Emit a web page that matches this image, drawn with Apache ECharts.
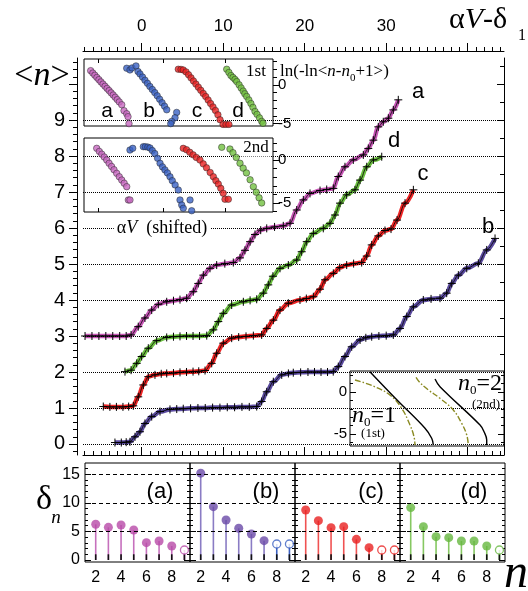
<!DOCTYPE html>
<html><head><meta charset="utf-8">
<script src="https://cdn.jsdelivr.net/npm/echarts@6/dist/echarts.min.js"></script>
<style>html,body{margin:0;padding:0;background:#fff}#c{width:528px;height:591px}</style>
</head><body><div id="c"></div>
<script>
// ---------- main plot: <n> vs alphaV - delta1 ----------
const curveA = [[-6.95,3.0],[-6.1,3.0],[-5.25,3.0],[-4.4,3.0],[-3.55,3.0],[-2.7,3.0],[-1.9,3.0],[-1.3,3.03],[-0.42,3.26],[0.4,3.5],[1.23,3.72],[2.04,3.88],[3.07,3.95],[3.9,3.98],[4.7,4.01],[5.52,4.05],[6.33,4.23],[6.94,4.46],[7.56,4.69],[8.38,4.88],[9.2,4.97],[10.2,5.01],[11.24,5.04],[12.06,5.17],[12.67,5.38],[13.3,5.62],[13.9,5.82],[14.6,5.94],[15.34,5.99],[16.3,6.03],[17.37,6.06],[18.2,6.13],[19.02,6.5],[19.83,6.78],[20.65,6.96],[21.88,7.04],[22.7,7.07],[23.51,7.1],[24.12,7.43],[24.94,7.7],[25.96,7.89],[27.19,8.03],[27.8,8.21],[28.42,8.44],[29.03,8.81],[29.64,8.95],[30.26,9.05],[30.87,9.28],[31.48,9.56]];
const curveD = [[-2.05,2.01],[-1.3,2.05],[-0.61,2.24],[0,2.43],[0.81,2.66],[1.84,2.87],[3.07,2.96],[3.9,2.98],[4.7,2.99],[5.5,3.0],[6.3,3.0],[7.1,3.0],[7.98,3.01],[8.79,3.17],[9.4,3.4],[10.01,3.63],[11.04,3.86],[12.47,3.95],[13.3,3.99],[14.11,4.02],[14.92,4.19],[15.53,4.42],[16.1,4.66],[16.97,4.88],[17.99,4.97],[19.02,5.11],[19.63,5.34],[20.25,5.62],[21.06,5.85],[22.28,5.99],[23.1,6.13],[23.72,6.36],[24.33,6.69],[25.15,6.92],[26.17,7.06],[26.79,7.33],[27.61,7.7],[28.42,7.89],[29.45,7.98]];
const curveC = [[-4.71,1.04],[-3.9,1.03],[-3.1,1.03],[-2.3,1.03],[-1.6,1.04],[-1.03,1.06],[-0.42,1.31],[0.2,1.64],[0.81,1.87],[1.63,1.92],[2.4,1.95],[3.07,1.96],[3.9,1.97],[4.7,1.99],[5.5,2.0],[6.3,2.01],[7.0,2.02],[7.77,2.04],[8.59,2.24],[9.2,2.52],[10.01,2.8],[11.04,2.94],[11.9,2.97],[12.8,2.99],[13.7,3.01],[14.72,3.03],[15.34,3.21],[16.15,3.44],[16.97,3.72],[17.99,3.91],[19.42,4.0],[20.2,4.04],[21.06,4.09],[21.88,4.3],[22.49,4.56],[23.51,4.74],[24.3,4.9],[25.15,4.97],[26.0,5.01],[26.99,5.04],[27.61,5.22],[28.22,5.53],[29.03,5.78],[29.85,5.93],[30.59,5.97],[31.33,6.22],[32.31,6.69],[33.33,7.06]];
const curveB = [[-3.28,0.04],[-2.5,0.04],[-1.9,0.05],[-1.44,0.06],[-0.82,0.2],[-0.21,0.34],[0.4,0.57],[1.23,0.76],[2.25,0.9],[3.47,0.96],[4.3,0.97],[5.1,0.98],[6.0,0.99],[6.9,1.0],[7.8,1.0],[8.7,1.01],[9.6,1.01],[10.5,1.02],[11.4,1.02],[12.3,1.03],[13.2,1.03],[14.11,1.04],[14.72,1.18],[15.34,1.45],[16.15,1.73],[17.18,1.92],[18.0,1.96],[18.6,1.98],[19.5,1.99],[20.4,2.0],[21.2,2.0],[22.0,2.0],[22.8,2.0],[23.5,2.01],[24.12,2.15],[24.94,2.43],[25.77,2.7],[26.79,2.89],[27.5,2.95],[28.22,2.98],[29.1,3.0],[30.0,3.01],[30.87,3.03],[31.69,3.21],[32.52,3.54],[33.33,3.81],[34.55,4.0],[35.5,4.03],[36.6,4.05],[37.42,4.19],[38.04,4.46],[38.85,4.69],[39.88,4.88],[41.3,5.02],[42.33,5.39],[43.35,5.71]];
const topLabels = [0,10,20,30];
const topMajor = [0,10,20,30,40];
const nLabels = [0,1,2,3,4,5,6,7,8,9];
const nGridLines = [0,1,2,3,4,5,6,7,8,9];

// ---------- inset 1: ln(-ln<n-n0+1>) vs alphaV (shifted) ----------
const in1TopA = [[-6.26,1.83],[-6.0,1.52],[-5.75,1.24],[-5.5,0.95],[-5.25,0.67],[-5.0,0.38],[-4.75,0.1],[-4.5,-0.18],[-4.25,-0.46],[-4.0,-0.74],[-3.75,-1.03],[-3.5,-1.31],[-3.25,-1.6],[-3.0,-1.9],[-2.75,-2.2],[-2.45,-2.56],[-2.17,-3.33],[-1.84,-3.72],[-1.68,-4.1],[-1.56,-5.0]];
const in1TopB = [[-1.84,2.14],[-1.44,1.92],[-1.19,2.18],[-0.7,2.44],[-0.45,1.71],[-0.21,1.41],[0.1,1.0],[0.4,0.6],[0.7,0.2],[1.0,-0.2],[1.3,-0.6],[1.6,-1.0],[1.9,-1.4],[2.2,-1.85],[2.5,-2.3],[2.8,-2.75],[3.07,-3.21],[4.29,-3.55],[4.09,-4.23],[3.68,-4.71],[3.56,-5.0]];
const in1TopC = [[4.49,2.01],[4.82,1.99],[5.1,1.92],[5.44,1.67],[5.75,1.3],[6.05,0.9],[6.35,0.5],[6.65,0.1],[6.95,-0.3],[7.25,-0.7],[7.55,-1.1],[7.85,-1.5],[8.15,-1.95],[8.45,-2.4],[8.75,-2.85],[9.05,-3.3],[9.35,-3.85],[9.61,-4.49],[9.98,-5.1],[10.34,-5.1],[10.7,-5.1]];
const in1TopD = [[10.43,2.01],[10.7,1.6],[10.95,1.2],[11.2,0.95],[11.45,0.7],[11.66,0.42],[11.95,0.0],[12.2,-0.4],[12.45,-0.8],[12.65,-1.15],[12.88,-1.5],[13.15,-1.95],[13.4,-2.4],[13.65,-2.9],[13.9,-3.42],[14.15,-3.8],[14.45,-4.25],[14.72,-4.7],[14.88,-4.95]];
const in1BotA = [[-5.52,1.36],[-5.2,1.0],[-4.9,0.68],[-4.6,0.35],[-4.29,0.0],[-4.0,-0.38],[-3.7,-0.75],[-3.4,-1.13],[-3.07,-1.55],[-2.75,-1.95],[-2.45,-2.33],[-2.15,-2.7],[-1.84,-3.1],[-1.64,-4.65],[-1.44,-4.65]];
const in1BotB = [[-1.44,1.16],[-1.1,1.36],[0.2,1.55],[0.45,1.55],[0.75,1.5],[1.02,1.4],[1.3,1.1],[1.6,0.75],[1.95,0.2],[2.25,-0.38],[2.55,-0.8],[2.85,-1.15],[3.15,-1.5],[3.47,-1.94],[3.75,-2.4],[4.1,-2.9],[4.49,-3.49],[4.7,-4.65],[4.91,-5.23],[5.1,-5.62],[6.13,-5.9],[5.93,-4.65]];
const in1BotC = [[5.1,1.36],[5.5,1.2],[5.9,0.9],[6.3,0.6],[6.7,0.3],[7.15,0.0],[7.55,-0.45],[7.95,-0.9],[8.4,-1.45],[8.79,-1.94],[9.1,-2.4],[9.4,-2.8],[9.7,-3.3],[10.01,-3.87],[10.22,-4.57],[10.63,-4.57]];
const in1BotD = [[9.82,1.48],[10.83,1.28],[11.2,0.85],[11.6,0.3],[12.06,-0.38],[12.45,-0.95],[12.85,-1.5],[13.3,-2.3],[13.7,-3.1],[14.05,-3.75],[14.4,-4.4],[14.72,-5.0]];
const in1TopBands = [[1.54,2.31],[-5.3,-4.49]];
const in1BotBands = [[0.93,1.74],[-5.23,-4.42]];
const in1YLabels = [0,-5];
const in1XTicks = [-5.3,2.6,10.2];

// ---------- inset 2: n0 = 1 (1st), n0 = 2 (2nd) ----------
const in2Olive1 = [[26.17,1.43],[28.4,0.71],[30.45,-0.36],[31.9,-1.94],[32.92,-3.93],[33.41,-5.32],[33.53,-6.31]];
const in2Black1 = [[28.0,2.42],[31.33,-0.95],[34.76,-4.32],[35.58,-5.51],[35.78,-6.31]];
const in2Olive2 = [[33.66,1.75],[34.15,1.11],[35.17,0.24],[36.6,-0.75],[38.23,-2.14],[39.26,-3.73],[39.88,-5.12],[40.07,-6.31]];
const in2Black2 = [[35.99,1.55],[36.6,0.63],[41.51,-3.93],[42.0,-4.73],[42.33,-5.71],[42.33,-6.31]];
const in2YLabels = [0,-5];

// ---------- bottom panels: delta_n vs n ----------
const nIdx = [2,3,4,5,6,7,8,9];
const deltaA = [6.25,5.72,6.13,5.25,3.04,3.33,2.45,1.75];
const deltaB = [15.2,9.34,7.0,5.55,4.55,3.38,2.8,2.8];
const deltaC = [8.76,6.89,5.66,5.84,3.62,2.16,1.75,1.75];
const deltaD = [9.17,5.84,4.09,3.91,3.33,3.33,2.45,1.75];
const openA = [0,0,0,0,0,0,0,1];
const openB = [0,0,0,0,0,0,1,1];
const openC = [0,0,0,0,0,0,1,1];
const openD = [0,0,0,0,0,0,0,1];
const stemBase = [1,1,1,1,1,1,1,1];
const deltaLabels = [0,5,10,15];
const deltaGrid = [5,10,15];
const nTickLabels = [2,4,6,8];

function steps(a,b,s){const r=[];for(let i=0;a+i*s<=b+1e-9;i++)r.push(+(a+i*s).toFixed(3));return r;}
const SANS='Liberation Sans', SERIF='Liberation Serif';
const BLK={color:'#000',width:1};

function ax(o){
  return Object.assign({
    type:'value', splitLine:{show:false},
    axisLine:{show:!!o.line,onZero:false,lineStyle:BLK},
    axisTick:{show:!!o.ticks,inside:!!o.inside,length:o.len||4,customValues:o.ticks,lineStyle:BLK},
    axisLabel:{show:!!o.labels,customValues:o.labels,fontSize:o.fs||15,color:'#000',fontFamily:SANS,margin:o.margin==null?6:o.margin}
  },o.base);
}

const grids = [
  {left:83, top:58, width:421, height:397, show:false},
  {left:84, top:59, width:189, height:67, show:true, backgroundColor:'#fff', borderColor:'#000', borderWidth:1, z:3},
  {left:84, top:138, width:189, height:74, show:true, backgroundColor:'#fff', borderColor:'#000', borderWidth:1, z:3},
  {left:350, top:371, width:154, height:75, show:true, backgroundColor:'#fff', borderColor:'#000', borderWidth:1, z:3}
];
for(let i=0;i<4;i++) grids.push({left:85+105*i, top:463, width:105, height:99, show:true, borderColor:'#000', borderWidth:1});

const XM={gridIndex:0,min:-7.2,max:44.45};
const YM={gridIndex:0,min:-0.306,max:10.722};
const xAxes = [
  ax({base:Object.assign({position:'top',offset:7},XM),line:1,ticks:steps(-7,44,1),len:4,labels:topLabels,fs:17,margin:16}),
  ax({base:Object.assign({position:'top',offset:7},XM),ticks:topMajor,len:8}),
  ax({base:Object.assign({position:'bottom'},XM),line:1,ticks:steps(-7,44,1),inside:1,len:4}),
  ax({base:Object.assign({position:'bottom'},XM),ticks:topMajor,inside:1,len:8}),
  ax({base:{gridIndex:1,position:'top',min:-7.08,max:16.11,z:4},ticks:in1XTicks,inside:1,len:4}),
  ax({base:{gridIndex:2,position:'bottom',min:-7.08,max:16.11,z:4},ticks:in1XTicks,inside:1,len:4}),
  ax({base:{gridIndex:3,position:'bottom',min:25.56,max:44.45,z:4,show:false}})
];
for(let i=0;i<4;i++) xAxes.push(ax({base:{gridIndex:4+i,position:'bottom',min:1.155,max:9.44},labels:nTickLabels,fs:16,margin:8}));

const yAxes = [
  ax({base:Object.assign({position:'left',offset:6},YM),line:1,ticks:steps(-0.2,10.6,0.2),len:4,labels:nLabels,fs:20,margin:12}),
  ax({base:Object.assign({position:'left',offset:6},YM),ticks:steps(0,10,1),len:8}),
  ax({base:Object.assign({position:'right'},YM),line:1,ticks:steps(0,10.5,0.5),inside:1,len:4}),
  ax({base:Object.assign({position:'right'},YM),ticks:steps(0,10,1),inside:1,len:7}),
  ax({base:{gridIndex:1,position:'right',min:-5.3,max:3.33,z:4},ticks:steps(-5,3,1),len:4,labels:in1YLabels,fs:15,margin:5}),
  ax({base:{gridIndex:1,position:'right',min:-5.3,max:3.33,z:4},ticks:in1YLabels,len:7}),
  ax({base:{gridIndex:2,position:'right',min:-6.05,max:2.56,z:4},ticks:steps(-6,2,1),len:4,labels:in1YLabels,fs:15,margin:5}),
  ax({base:{gridIndex:2,position:'right',min:-6.05,max:2.56,z:4},ticks:in1YLabels,len:7}),
  ax({base:{gridIndex:3,position:'left',min:-6.43,max:2.5,z:4},ticks:steps(-6,2,1),inside:1,len:3,labels:in2YLabels,fs:15,margin:3}),
  ax({base:{gridIndex:3,position:'left',min:-6.43,max:2.5,z:4},ticks:in2YLabels,inside:1,len:6}),
  ax({base:{gridIndex:3,position:'right',min:-6.43,max:2.5,z:4},ticks:steps(-6,2,1),inside:1,len:3}),
  ax({base:{gridIndex:3,position:'right',min:-6.43,max:2.5,z:4},ticks:in2YLabels,inside:1,len:6})
];
for(let i=0;i<4;i++){
  const b={gridIndex:4+i,min:-0.35,max:16.98};
  yAxes.push(ax({base:Object.assign({position:'left'},b),ticks:steps(0,16,1),inside:1,len:3,labels:i===0?deltaLabels:null,fs:16,margin:5}));
  yAxes.push(ax({base:Object.assign({position:'left'},b),ticks:deltaLabels,inside:1,len:6}));
  yAxes.push(ax({base:Object.assign({position:'right'},b),ticks:steps(0,16,1),inside:1,len:3}));
  yAxes.push(ax({base:Object.assign({position:'right'},b),ticks:deltaLabels,inside:1,len:6}));
}

const series = [];
const CROSS='path://M5,0L5,10M0,5L10,5';
const mainCurves = [[curveB,'#5a4a9e'],[curveC,'#ee2424'],[curveD,'#6cc040'],[curveA,'#c655b5']];
mainCurves.forEach(([d,col],k)=>{
  const s={type:'line',xAxisIndex:0,yAxisIndex:0,data:d,smooth:0.35,smoothMonotone:'x',symbol:'none',
    lineStyle:{color:col,width:4.5},z:2,silent:true};
  if(k===0) s.markLine={silent:true,symbol:'none',label:{show:false},lineStyle:{type:'dotted',color:'#000',width:1},
    data:nGridLines.map(v=>({yAxis:v}))};
  series.push(s);
});
mainCurves.forEach(([d])=>{
  series.push({type:'line',xAxisIndex:0,yAxisIndex:0,data:d,smooth:0.35,smoothMonotone:'x',symbol:CROSS,symbolSize:8,
    lineStyle:{color:'#000',width:0.8},itemStyle:{color:'none',borderColor:'#000',borderWidth:1},z:2,silent:true});
});

function sc(d,col,xi,yi){return {type:'scatter',xAxisIndex:xi,yAxisIndex:yi,data:d,symbolSize:6.5,
  itemStyle:{color:col,borderColor:'#222',borderWidth:0.6},z:5,silent:true};}
function bands(b,xi,yi){return {type:'line',xAxisIndex:xi,yAxisIndex:yi,data:[],z:4,silent:true,
  markArea:{silent:true,itemStyle:{color:'#c4c4c4'},data:b.map(r=>[{yAxis:r[0]},{yAxis:r[1]}])}};}
series.push(bands(in1TopBands,4,4), bands(in1BotBands,5,6));
[[in1TopA,'#c868c0'],[in1TopB,'#3a62c4'],[in1TopC,'#e82020'],[in1TopD,'#72c040']].forEach(([d,c])=>series.push(sc(d,c,4,4)));
[[in1BotA,'#c868c0'],[in1BotB,'#3a62c4'],[in1BotC,'#e82020'],[in1BotD,'#72c040']].forEach(([d,c])=>series.push(sc(d,c,5,6)));

[[in2Olive1,'#8a8a22',[6,2,1.5,2]],[in2Black1,'#000','solid'],[in2Olive2,'#8a8a22',[6,2,1.5,2]],[in2Black2,'#000','solid']].forEach(([d,c,t])=>{
  series.push({type:'line',xAxisIndex:6,yAxisIndex:8,data:d,smooth:0.4,symbol:'none',lineStyle:{color:c,width:1.4,type:t},z:5,silent:true});
});

const panels = [
  [deltaA,openA,'#b84aa8','#c670bd','#b84aa8'],
  [deltaB,openB,'#6a4aa8','#8a7cc4','#3a5fc0'],
  [deltaC,openC,'#e82020','#f05252','#e82020'],
  [deltaD,openD,'#66b840','#86c862','#66b840']
];
panels.forEach(([vals,open,dot,stem,openCol],i)=>{
  const xi=7+i, yi=12+4*i;
  series.push({type:'line',xAxisIndex:xi,yAxisIndex:yi,data:[],silent:true,z:1,
    markLine:{silent:true,symbol:'none',label:{show:false},lineStyle:{type:[4,3],color:'#000',width:1},data:deltaGrid.map(v=>({yAxis:v}))}});
  series.push({type:'bar',xAxisIndex:xi,yAxisIndex:yi,barWidth:1.6,barGap:'-100%',silent:true,z:2,
    data:nIdx.map((n,k)=>({value:[n,vals[k]],itemStyle:{color:open[k]?openCol:stem}}))});
  series.push({type:'bar',xAxisIndex:xi,yAxisIndex:yi,barWidth:1.6,barGap:'-100%',silent:true,z:2,
    data:nIdx.map((n,k)=>[n,stemBase[k]]),itemStyle:{color:'#111'}});
  series.push({type:'scatter',xAxisIndex:xi,yAxisIndex:yi,silent:true,z:3,symbolSize:9,
    data:nIdx.map((n,k)=>[n,vals[k]]).filter((p,k)=>!open[k]),itemStyle:{color:dot}});
  series.push({type:'scatter',xAxisIndex:xi,yAxisIndex:yi,silent:true,z:3,symbolSize:8,
    data:nIdx.map((n,k)=>[n,vals[k]]).filter((p,k)=>open[k]),itemStyle:{color:'#fff',borderColor:openCol,borderWidth:1.3}});
});

function T(x,y,text,st,extra){return Object.assign({type:'text',x:x,y:y,z:20,silent:true,
  style:Object.assign({text:text,fill:'#000',align:'center',verticalAlign:'middle'},st)},extra||{});}
const ser=(fs,it)=>({fontSize:fs,fontFamily:SERIF,fontStyle:it?'italic':'normal',fill:'#000'});
const graphics = [
  T(42,76,'{a|<}{i|n}{a|>}',{rich:{a:ser(34),i:ser(34,1)}}),
  T(478,20,'{a|α}{i|V}{a|-δ}',{rich:{a:ser(30),i:ser(30,1)}}),
  T(522,36,'1',{font:'16px '+SERIF}),
  T(280,72,'{r|ln(-ln<}{i|n}{r|-}{i|n}{s|0}{r|+1>)}',{align:'left',rich:{r:ser(17),i:ser(17,1),s:Object.assign(ser(11),{padding:[12,0,0,0]})}}),
  T(256,72,'1st',{font:'17px '+SERIF,backgroundColor:'#fff',padding:[0,2]}),
  T(256,148,'2nd',{font:'17px '+SERIF,backgroundColor:'#fff',padding:[0,2]}),
  T(107,111,'a',{font:'21px '+SANS}), T(149,111,'b',{font:'21px '+SANS}),
  T(197,111,'c',{font:'21px '+SANS}), T(238,111,'d',{font:'21px '+SANS}),
  T(418,92,'a',{font:'22px '+SANS}), T(394,141,'d',{font:'22px '+SANS}),
  T(423,174,'c',{font:'22px '+SANS}), T(488,227,'b',{font:'22px '+SANS}),
  T(162,228,'{r|α}{i|V}{r|  (shifted)}',{rich:{r:ser(18),i:ser(18,1)},backgroundColor:'#fff',padding:[0,3]}),
  T(374,416,'{i|n}{s|0}{r|=1}',{rich:{i:ser(24,1),r:ser(24),s:Object.assign(ser(13),{padding:[14,0,0,0]})}}),
  T(373,434,'(1st)',{font:'13px '+SERIF}),
  T(480,384,'{i|n}{s|0}{r|=2}',{rich:{i:ser(24,1),r:ser(24),s:Object.assign(ser(13),{padding:[14,0,0,0]})}}),
  T(486,405,'(2nd)',{font:'13px '+SERIF}),
  T(160,492,'(a)',{font:'22px '+SANS}), T(266,492,'(b)',{font:'22px '+SANS}),
  T(371,492,'(c)',{font:'22px '+SANS}), T(474,492,'(d)',{font:'22px '+SANS}),
  T(44,500,'δ',{font:'34px '+SERIF}),
  T(56,518,'n',{font:'italic 19px '+SERIF}),
  T(516,574,'n',{font:'italic 48px '+SERIF})
];

const chart = echarts.init(document.getElementById('c'), null, {renderer:'canvas'});
chart.setOption({animation:false, backgroundColor:'#fff', grid:grids, xAxis:xAxes, yAxis:yAxes, series:series, graphic:{elements:graphics}});
</script></body></html>
